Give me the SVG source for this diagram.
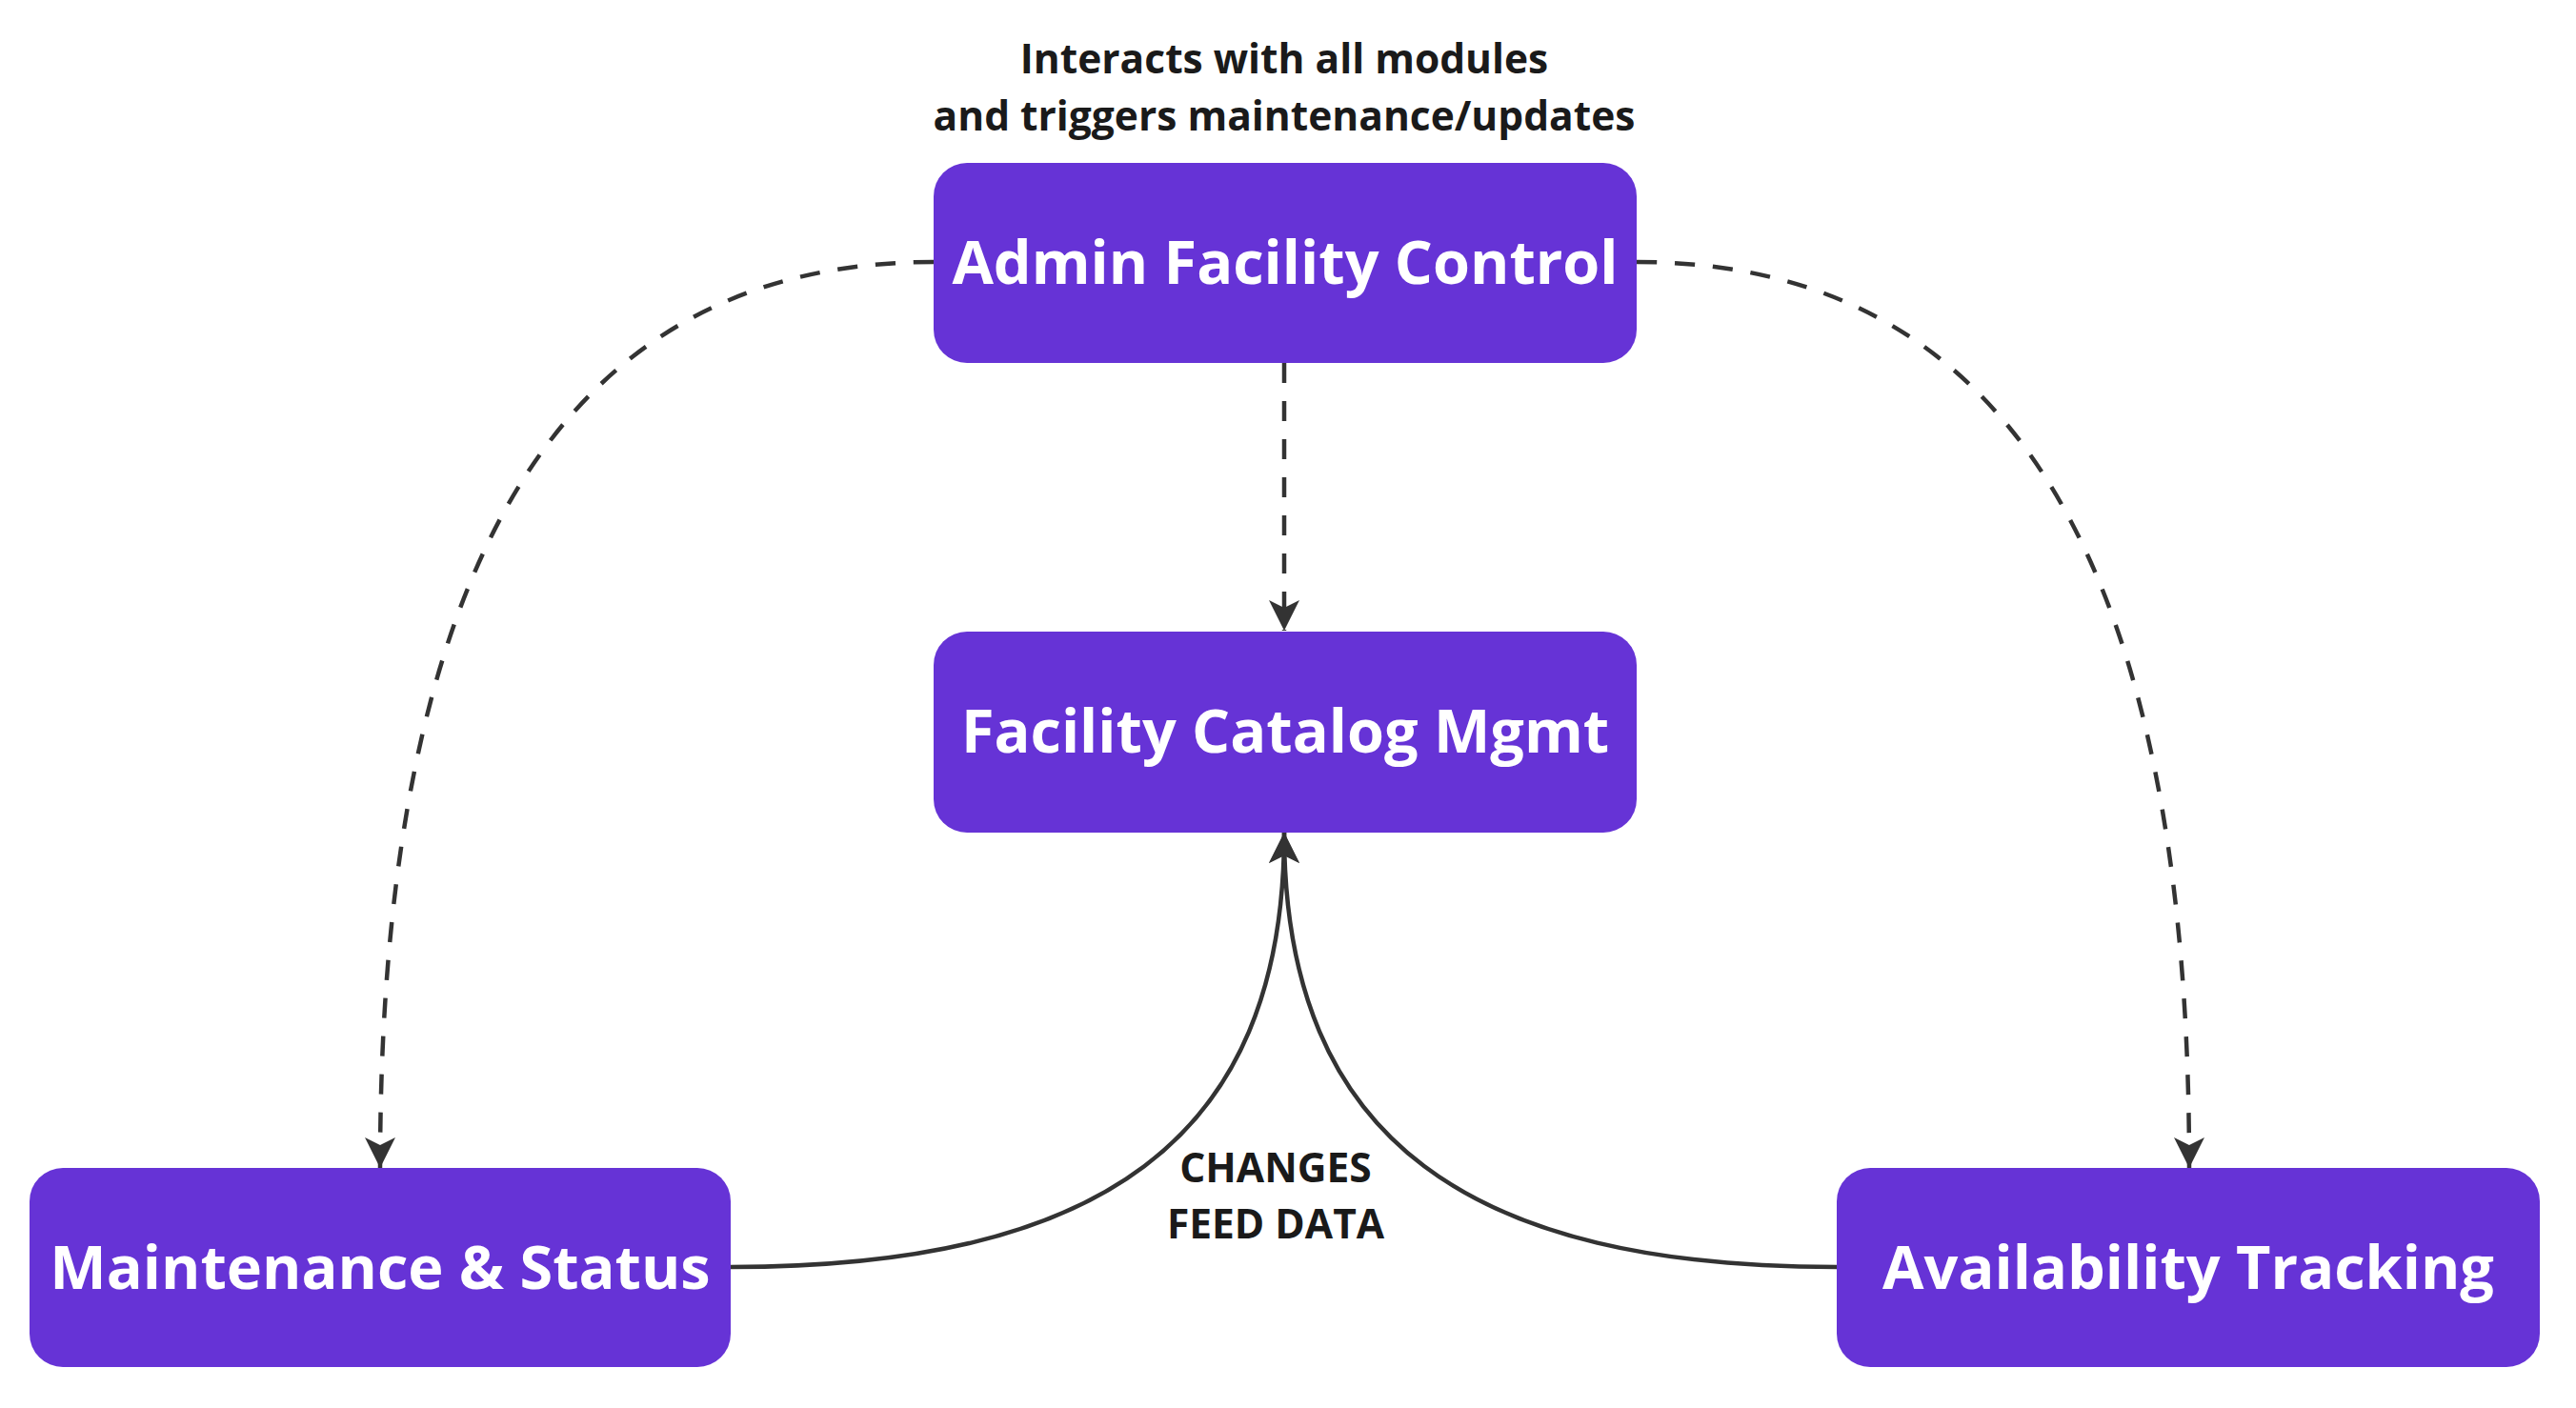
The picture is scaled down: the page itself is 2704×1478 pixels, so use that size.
<svg xmlns="http://www.w3.org/2000/svg" width="2704" height="1478" viewBox="0 0 2704 1478">
<style>
.node rect{fill:#6633d6;}
.node text{fill:#ffffff;font-family:"Open Sans","Noto Sans",sans-serif;font-weight:700;font-size:63px;text-anchor:middle;}
.lbl{fill:#1a1a1a;font-family:"Open Sans","Noto Sans",sans-serif;font-weight:700;font-size:42.5px;text-anchor:middle;}
.edge{fill:none;stroke:#333333;stroke-width:4.5;}
.dash{stroke-dasharray:21 19;}
</style>
<defs>
<marker id="arr" viewBox="0 0 12 12" refX="12" refY="6" markerWidth="32" markerHeight="32" markerUnits="userSpaceOnUse" orient="auto">
<path d="M0,0 L12,6 L0,12 L3,6 z" fill="#333333"/>
</marker>
</defs>
<rect width="2704" height="1478" fill="#ffffff"/>
<g id="connectors">
<path class="edge dash" d="M980,275 C540,275 399,680 399,1226" marker-end="url(#arr)"/>
<path class="edge dash" d="M1348,381 L1348,662" marker-end="url(#arr)"/>
<path class="edge dash" d="M1718,275 C2158,275 2298,680 2298,1226" marker-end="url(#arr)"/>
<path class="edge" d="M767,1330 C1150,1330 1348,1200 1348,874" marker-end="url(#arr)"/>
<path class="edge" d="M1928,1330 C1547,1330 1348,1200 1348,874" marker-end="url(#arr)"/>
</g>
<g id="label-admin">
<text class="lbl" x="1348" y="77">Interacts with all modules</text>
<text class="lbl" x="1348" y="137">and triggers maintenance/updates</text>
</g>
<g id="label-feed">
<text class="lbl" x="1339" y="1241">CHANGES</text>
<text class="lbl" x="1339" y="1300">FEED DATA</text>
</g>
<g id="node-admin" class="node">
<rect x="980" y="171" width="738" height="210" rx="35"/>
<text x="1349" y="298">Admin Facility Control</text>
</g>
<g id="node-catalog" class="node">
<rect x="980" y="663" width="738" height="211" rx="35"/>
<text x="1349" y="790">Facility Catalog Mgmt</text>
</g>
<g id="node-maintenance" class="node">
<rect x="31" y="1226" width="736" height="209" rx="35"/>
<text x="399" y="1353">Maintenance &amp; Status</text>
</g>
<g id="node-availability" class="node">
<rect x="1928" y="1226" width="738" height="209" rx="35"/>
<text x="2297" y="1353">Availability Tracking</text>
</g>
</svg>
